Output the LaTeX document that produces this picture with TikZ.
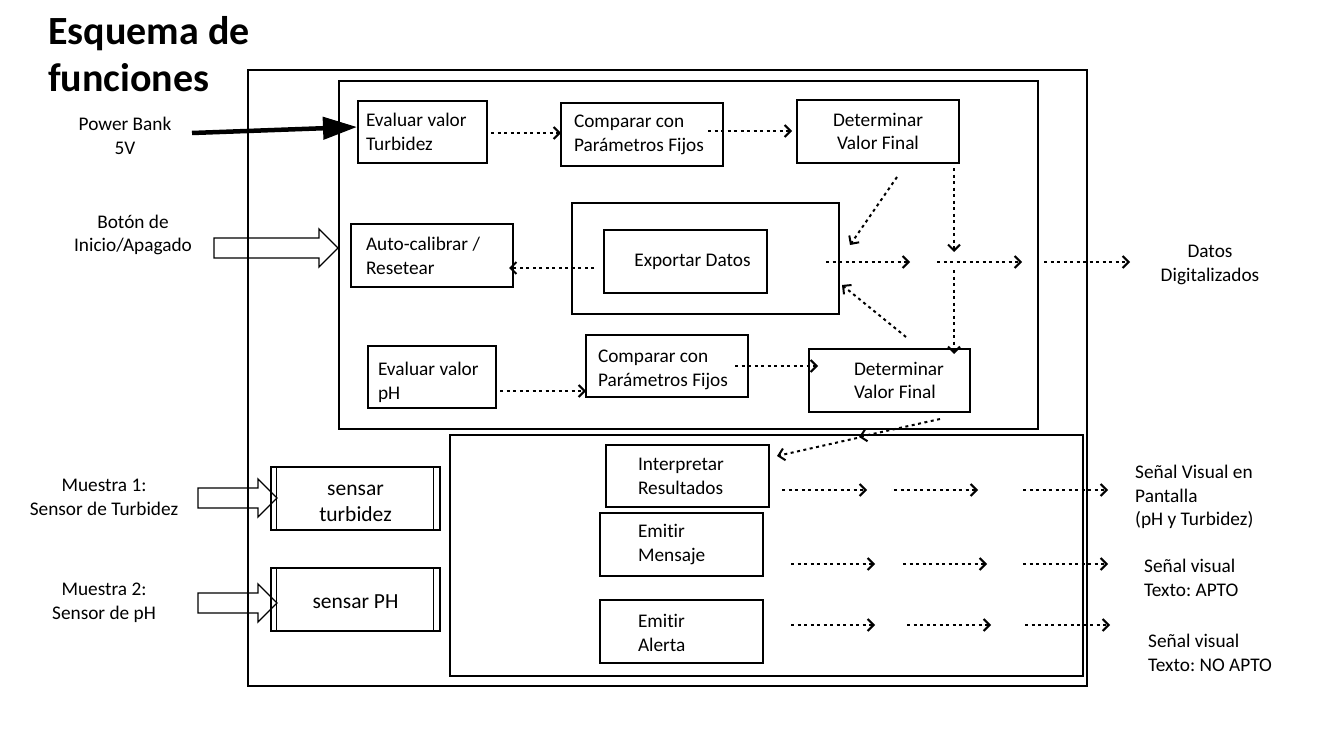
\documentclass[tikz,border=0pt]{standalone}
\usepackage{fontspec}
\setmainfont{Carlito}[Ligatures=NoCommon]
\usetikzlibrary{arrows.meta}
\frenchspacing
\newcommand\fsz{\fontsize{19.3}{23.8}\selectfont}
\newcommand\fbig{\fontsize{21.5}{26}\selectfont}
\newcommand\ftitle{\fontsize{40}{47.5}\selectfont\bfseries}
\newcommand\up[1]{\rule{0pt}{#1pt}}
\tikzset{
  bx/.style={draw, line width=1.3pt, inner ysep=0pt, font=\fsz, align=flush left},
  cont/.style={draw, line width=1.4pt, inner sep=0pt},
  lbl/.style={font=\fsz, align=flush center, inner sep=0pt},
  lbll/.style={font=\fsz, align=flush left, inner sep=0pt, anchor=west},
  dar/.style={line width=2pt, dash pattern=on 3pt off 3.5pt, -{Straight Barb[length=6pt,width=12pt]}},
  blk/.style={draw, line width=1.3pt, line join=miter},
  thick arrow/.style={line width=4.5pt, -{Triangle[length=34pt,width=22pt]}},
}
\newcommand\darr[3]{\coordinate (#1s) at (#2); \coordinate (#1e) at (#3); \draw[dar] (#1s) -- (#1e);}
\begin{document}
\begin{tikzpicture}[x=1pt,y=-1pt]
\useasboundingbox (0,0) rectangle (1340,733);

% title
\node[font=\ftitle, align=flush left, inner sep=0pt, anchor=north west] (title) at (48,16) {Esquema de\\funciones};

% containers
\node[cont, minimum width=839pt, minimum height=616pt] (outer) at (667.5,378) {};
\node[cont, minimum width=699pt, minimum height=348pt] (upper) at (688.5,255) {};
\node[cont, minimum width=633pt, minimum height=241pt] (lower) at (766.5,555.5) {};

% boxes
\node[bx, minimum width=129pt, minimum height=62pt, inner xsep=8pt, text width=113pt] (evt) at (422.5,132) {Evaluar valor\\Turbidez};
\node[bx, minimum width=162pt, minimum height=63pt, inner xsep=13pt, text width=136pt] (cmt) at (642,134.5) {Comparar con\\Parámetros Fijos};
\node[bx, minimum width=162pt, minimum height=63pt, inner xsep=11pt, text width=140pt, align=flush center] (dvt) at (878,131.5) {Determinar\\Valor Final};
\node[bx, minimum width=162pt, minimum height=63pt, inner xsep=15pt, text width=132pt] (aut) at (432,255.5) {Auto-calibrar /\\Resetear};
\node[cont, line width=1.3pt, minimum width=267pt, minimum height=111pt] (expo) at (705.5,258.5) {};
\node[bx, minimum width=163pt, minimum height=63pt, inner xsep=10pt, text width=143pt, align=flush center] (expd) at (685.5,261.5) {\hspace*{14pt}Exportar Datos};
\node[bx, minimum width=128pt, minimum height=62pt, inner xsep=10pt, text width=108pt] (evp) at (432,377) {\up{24}Evaluar valor\\pH};
\node[bx, minimum width=162pt, minimum height=62pt, inner xsep=12pt, text width=138pt] (cmp) at (667,366) {\up{20}Comparar con\\Parámetros Fijos};
\node[bx, minimum width=161pt, minimum height=63pt, inner xsep=10pt, text width=141pt] (dvp) at (889.5,380.5) {\hspace*{35pt}Determinar\\\hspace*{35pt}Valor Final};
\node[bx, minimum width=163pt, minimum height=62pt, inner xsep=32pt, text width=99pt] (int) at (687.5,476) {Interpretar\\Resultados};
\node[bx, minimum width=163pt, minimum height=63pt, inner xsep=38pt, text width=87pt] (eme) at (681.5,544.5) {Emitir\\Mensaje};
\node[bx, minimum width=163pt, minimum height=63pt, inner xsep=38pt, text width=87pt] (eal) at (681.5,631.5) {\up{16}Emitir\\Alerta};
\node[bx, font=\fbig, align=flush center, minimum width=169pt, minimum height=63pt, inner xsep=10pt, text width=149pt] (sst) at (355.5,498.5) {\up{20}sensar\\turbidez};
\node[bx, font=\fbig, align=flush center, minimum width=169pt, minimum height=63pt, inner xsep=10pt, text width=149pt] (sph) at (355.5,599.5) {\up{18}sensar PH};
\foreach \n in {sst,sph}{
  \draw[line width=1.3pt] ([xshift=6pt]\n.north west) -- ([xshift=6pt]\n.south west);
  \draw[line width=1.3pt] ([xshift=-7pt]\n.north east) -- ([xshift=-7pt]\n.south east);
}

% outside labels
\node[lbl] (pb) at (125,136) {Power Bank\\5V};
\node[lbl] (bt) at (133,235) {Botón de\\Inicio/Apagado};
\node[lbl] (m1) at (104,497) {Muestra 1:\\Sensor de Turbidez};
\node[lbl] (m2) at (104,603) {Muestra 2:\\Sensor de pH};
\node[lbl] (dd) at (1210,265) {Datos\\Digitalizados};
\node[lbll] (sv1) at (1135,497) {Señal Visual en\\Pantalla\\(pH y Turbidez)};
\node[lbll] (sv2) at (1144,578) {Señal visual\\Texto: APTO};
\node[lbll] (sv3) at (1148,653) {Señal visual\\Texto: NO APTO};

% thick input arrow
\coordinate (pbs) at (192,133);
\coordinate (pbe) at (357,127);
\draw[thick arrow] (pbs) -- (pbe);

% block arrows
\coordinate (btTip) at (338,248);
\draw[blk] (btTip) -- ++(-19,-19) -- ++(0,9) -- ++(-105,0) -- ++(0,20) -- ++(105,0) -- ++(0,9) -- cycle;
\coordinate (m1Tip) at (277,498);
\draw[blk] (m1Tip) -- ++(-19,-19) -- ++(0,9) -- ++(-60,0) -- ++(0,20) -- ++(60,0) -- ++(0,9) -- cycle;
\coordinate (m2Tip) at (277,603);
\draw[blk] (m2Tip) -- ++(-19,-19) -- ++(0,9) -- ++(-60,0) -- ++(0,20) -- ++(60,0) -- ++(0,9) -- cycle;

% dotted arrows
\darr{a1}{491,133}{561,133}
\darr{a2}{708,131}{792,131}
\darr{a3}{594,268}{509,268}
\darr{a4}{897,177}{850,245}
\darr{a5}{826,262}{910,262}
\darr{a6}{937,262}{1022,262}
\darr{a7}{954,168}{954,252}
\darr{a8}{954,270}{954,354}
\darr{a9}{906,337}{842,285}
\darr{a10}{1044,262}{1130,262}
\darr{a11}{500,391}{586,391}
\darr{a12}{735,366}{818,366}
\darr{a13}{940,419}{859,437}
\darr{a14}{857,438}{777,456}
\darr{ra}{782,490}{867,490}
\darr{rb}{894,490}{978,490}
\darr{rc}{1023,490}{1108,490}
\darr{rd}{791,564}{875,564}
\darr{re}{903,564}{987,564}
\darr{rf}{1023,564}{1108,564}
\darr{rg}{791,625}{875,625}
\darr{rh}{907,625}{991,625}
\darr{ri}{1025,625}{1110,625}
\end{tikzpicture}
\end{document}
